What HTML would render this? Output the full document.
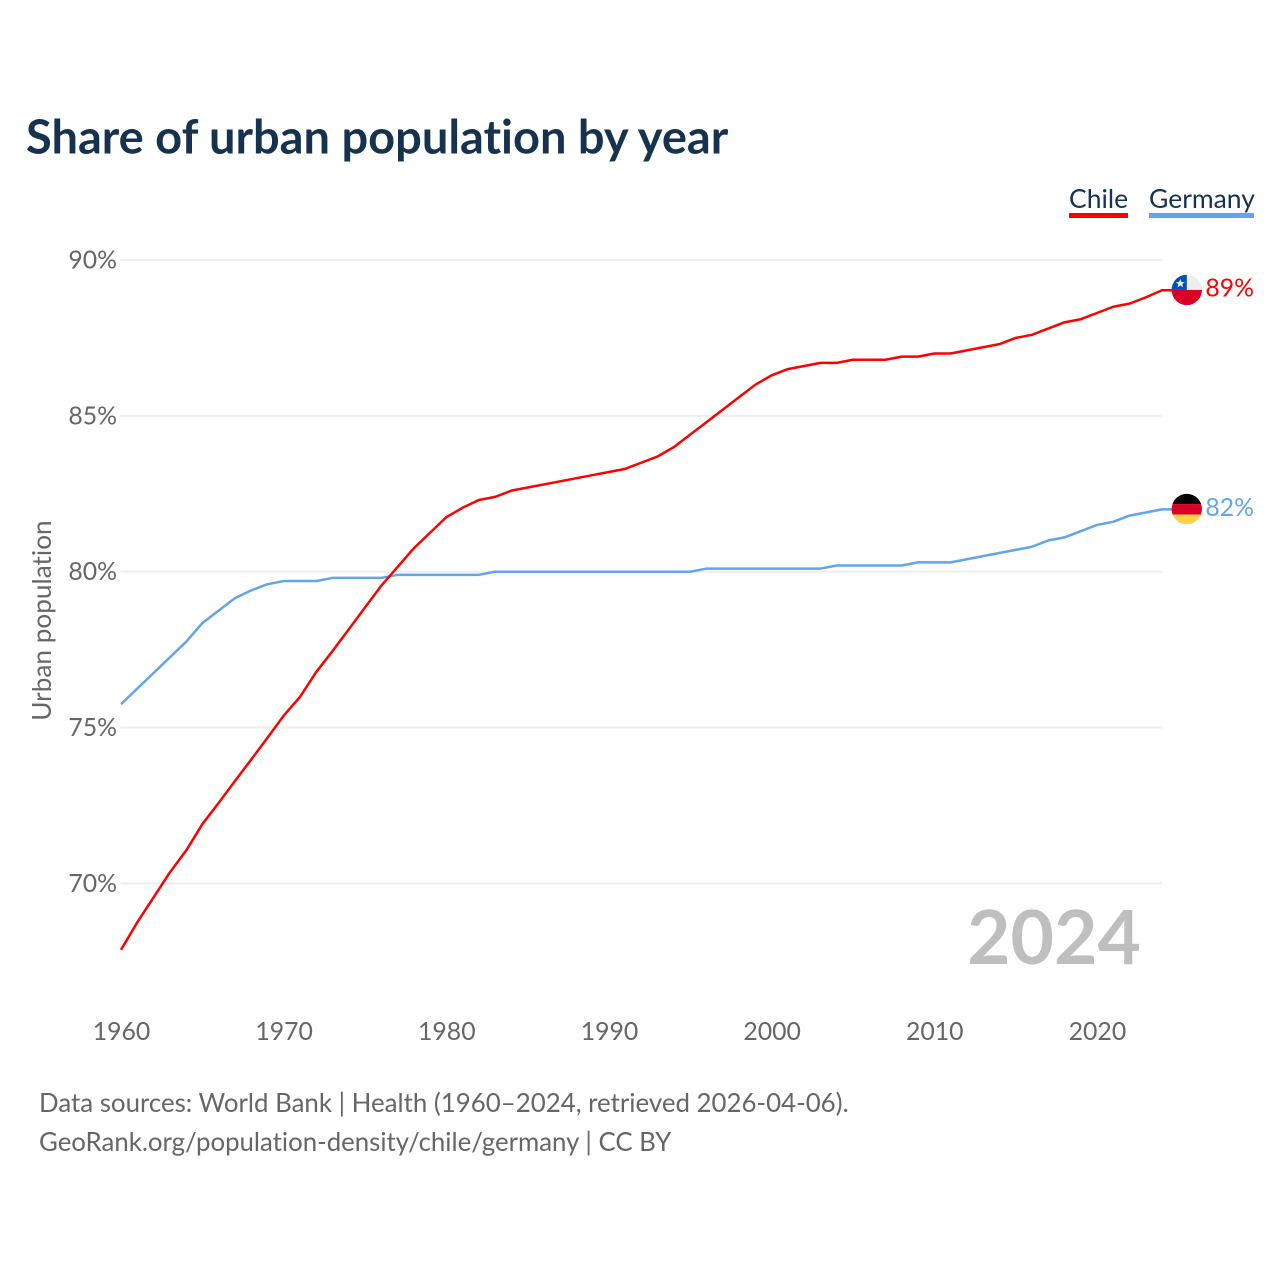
<!DOCTYPE html>
<html lang="en">
<head>
<meta charset="utf-8">
<title>Share of urban population by year</title>
<style>
html,body{margin:0;padding:0;background:#fff;width:1280px;height:1280px;overflow:hidden}
svg{display:block}
text{font-family:"Lato","Carlito","Liberation Sans",sans-serif;font-variant-ligatures:none}
</style>
</head>
<body>
<svg id="chart" xmlns="http://www.w3.org/2000/svg" width="1280" height="1280" viewBox="0 0 1280 1280">
  <defs>
    <clipPath id="flag-clip"><circle cx="0" cy="0" r="15.2"></circle></clipPath>
  </defs>
  <text x="26" y="153.5" font-size="47" font-weight="700" fill="#17324f">Share of urban population by year</text>

  <g>
    <g>
      <text x="1069" y="208" font-size="26.5" fill="#17324f">Chile</text>
      <rect x="1069" y="213" width="59" height="5" fill="#ff0000"></rect>
    </g>
    <g>
      <text x="1149" y="208" font-size="26.5" fill="#17324f">Germany</text>
      <rect x="1149" y="213" width="105" height="5" fill="#62a5ea"></rect>
    </g>
  </g>

  <g id="grid"></g>
  <g id="y-ticks"></g>
  <g id="x-ticks"></g>

  <text transform="translate(51,620.5) rotate(-90)" text-anchor="middle" font-size="26.2" fill="#666666">Urban population</text>

  <text x="1141" y="964" text-anchor="end" font-size="75" font-weight="700" fill="#bfbfbf">2024</text>

  <g id="series"></g>
  <g id="endpoints"></g>

  <text x="39" y="1112" font-size="25.85" fill="#666666">Data sources: World Bank | Health (1960–2024, retrieved 2026-04-06).</text>
  <text x="39" y="1151" font-size="25.8" fill="#666666">GeoRank.org/population-density/chile/germany | CC BY</text>
</svg>

<script>
const startYear = 1960;
const chileValues = [67.87,68.75,69.55,70.35,71.05,71.9,72.58,73.28,73.97,74.67,75.38,75.98,76.78,77.45,78.15,78.85,79.55,80.15,80.75,81.25,81.75,82.05,82.3,82.4,82.6,82.7,82.8,82.9,83.0,83.1,83.2,83.3,83.5,83.7,84.0,84.4,84.8,85.2,85.6,86.0,86.3,86.5,86.6,86.7,86.7,86.8,86.8,86.8,86.9,86.9,87.0,87.0,87.1,87.2,87.3,87.5,87.6,87.8,88.0,88.1,88.3,88.5,88.6,88.8,89.03];
const germanyValues = [75.75,76.25,76.75,77.25,77.75,78.35,78.75,79.15,79.4,79.6,79.7,79.7,79.7,79.8,79.8,79.8,79.8,79.9,79.9,79.9,79.9,79.9,79.9,80.0,80.0,80.0,80.0,80.0,80.0,80.0,80.0,80.0,80.0,80.0,80.0,80.0,80.1,80.1,80.1,80.1,80.1,80.1,80.1,80.1,80.2,80.2,80.2,80.2,80.2,80.3,80.3,80.3,80.4,80.5,80.6,80.7,80.8,81.0,81.1,81.3,81.5,81.6,81.8,81.9,82.0];
const yTickValues = [70,75,80,85,90];
const xTickValues = [1960,1970,1980,1990,2000,2010,2020];

const NS = 'http://www.w3.org/2000/svg';
function xScale(year){ return 121 + (year - 1960) * (1162 - 121) / 64; }
function yScale(v){ return 883.4 - (v - 70) * (883.4 - 260) / 20; }
function make(tag, attrs, parent){
  const el = document.createElementNS(NS, tag);
  for (const k in attrs) el.setAttribute(k, attrs[k]);
  parent.appendChild(el);
  return el;
}
const gridG = document.getElementById('grid');
const yG = document.getElementById('y-ticks');
const xG = document.getElementById('x-ticks');
const seriesG = document.getElementById('series');
const endG = document.getElementById('endpoints');

yTickValues.forEach(function(v){
  const line = make('line', {x1:120.5, x2:1162, y1:yScale(v), y2:yScale(v), stroke:'#eeeeee', 'stroke-width':2}, gridG);
  
  
  const t = make('text', {x:117, y:yScale(v)+8.5, 'text-anchor':'end', 'font-size':24.8, fill:'#666666'}, yG);
  t.textContent = v + '%';
  
  
});

xTickValues.forEach(function(y){
  const t = make('text', {x:xScale(y)+0.5, y:1040, 'text-anchor':'middle', 'font-size':24.8, fill:'#666666'}, xG);
  t.textContent = String(y);
  
  
});

function drawLine(values, color){
  const pts = values.map(function(v, i){ return xScale(startYear + i).toFixed(2) + ',' + yScale(v).toFixed(2); });
  const lastY = yScale(values[values.length - 1]);
  pts.push((xScale(startYear + values.length - 1) + 10).toFixed(2) + ',' + lastY.toFixed(2));
  return make('polyline', {points:pts.join(' '), fill:'none', stroke:color, 'stroke-width':2.5, 'stroke-linejoin':'round'}, seriesG);
}
const germanyLine = drawLine(germanyValues, '#62a5ea');


const chileLine = drawLine(chileValues, '#ff0000');



function endLabel(values, color){
  const v = values[values.length - 1];
  const t = make('text', {x:1254, y:yScale(v)+6.5, 'text-anchor':'end', 'font-size':24.8, fill:color}, endG);
  t.textContent = Math.round(v) + '%';
  return t;
}
function flagGroup(values){
  const v = values[values.length - 1];
  return make('g', {transform:'translate(1186.8,' + (yScale(v) - 0.3).toFixed(2) + ')', 'clip-path':'url(#flag-clip)'}, endG);
}

const chileFlag = flagGroup(chileValues);


make('rect', {x:-16, y:-16, width:32, height:16, fill:'#eeeeee'}, chileFlag);
make('rect', {x:-16, y:0, width:32, height:17, fill:'#d80027'}, chileFlag);
make('rect', {x:-16, y:-16, width:16, height:16, fill:'#0052b4'}, chileFlag);
make('polygon', {points:'-6.5,-11 -5.3,-7.8 -2,-7.8 -4.6,-5.8 -3.7,-2.6 -6.5,-4.5 -9.3,-2.6 -8.4,-5.8 -11,-7.8 -7.7,-7.8', fill:'#eeeeee'}, chileFlag);
const chileLabel = endLabel(chileValues, '#ff0000');



const germanyFlag = flagGroup(germanyValues);


make('rect', {x:-16, y:-16, width:32, height:11, fill:'#000000'}, germanyFlag);
make('rect', {x:-16, y:-5, width:32, height:10.5, fill:'#d80027'}, germanyFlag);
make('rect', {x:-16, y:5.5, width:32, height:11, fill:'#ffd244'}, germanyFlag);
const germanyLabel = endLabel(germanyValues, '#62a5ea');


</script>
</body>
</html>
